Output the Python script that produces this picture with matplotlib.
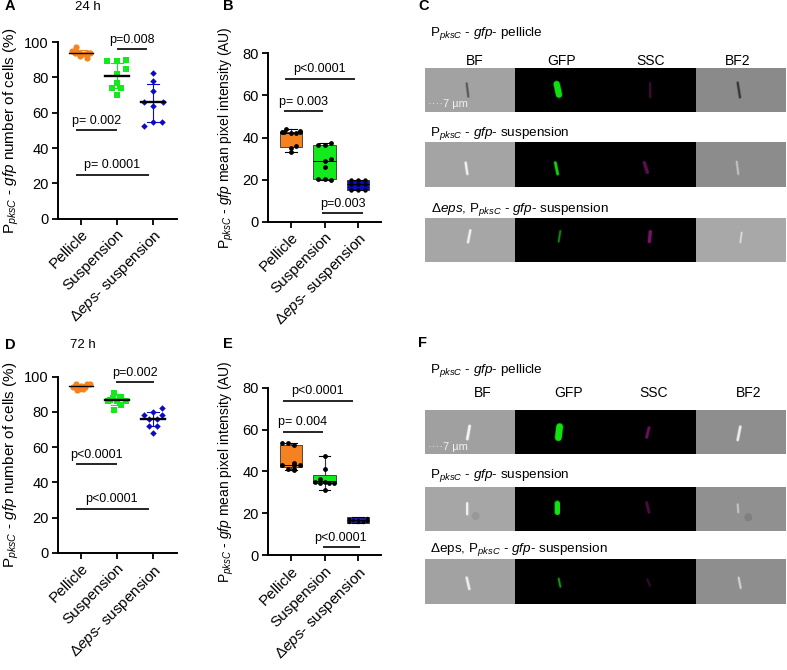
import matplotlib
matplotlib.use("Agg")
import matplotlib.pyplot as plt
from matplotlib.patches import Rectangle, Circle

plt.rcParams['font.family'] = ['Liberation Sans', 'DejaVu Sans']
plt.rcParams['mathtext.fontset'] = 'custom'
plt.rcParams['mathtext.rm'] = 'Liberation Sans'
plt.rcParams['mathtext.it'] = 'Liberation Sans:italic'
plt.rcParams['mathtext.bf'] = 'Liberation Sans:bold'
plt.rcParams['mathtext.default'] = 'regular'

W, H = 787, 670
ORANGE, GREEN, BLUE = '#f58220', '#12ea1e', '#0a0ac8'
NAVY = '#1f1f9c'

categories = ['Pellicle', 'Suspension', r'Δ$\mathit{eps}$- suspension']

# Panel A (24 h, % of cells)
a_pel = [97, 95, 94, 93, 93, 94, 93.5, 92, 91, 93.5]
a_pel_x = [-.15, -.25, -.08, 0, .1, .2, .26, -.02, .17, -.18]
a_sus = [89, 89, 90, 85, 82, 77, 74, 74, 70]
a_sus_x = [-.27, 0, .26, .26, 0, 0, -.13, .12, 0]
a_dep = [82.5, 78, 72.5, 66, 66, 64, 55, 55, 52.5]
a_dep_x = [0, 0, 0, -.26, .28, 0, 0, .26, -.26]
a_mean = [94, 81, 65.8]
a_sd = [[92.5, 95.5], [74, 88], [55, 76]]

# Panel D (72 h, % of cells)
d_pel = [96, 96, 95, 94, 94, 93, 93, 92.5, 96]
d_pel_x = [-.14, .24, 0, -.22, .12, .05, -.05, -.1, .18]
d_sus = [91, 88, 87, 86, 86, 86, 84, 81, 88]
d_sus_x = [-.08, .1, -.2, .26, -.26, .0, .12, -.08, -.1]
d_dep = [82, 80, 78.5, 78.5, 76, 76, 72, 72, 68]
d_dep_x = [.26, 0, -.26, .26, -.12, .1, -.12, .1, 0]
d_mean = [94.5, 87, 76]
d_sd = [[93, 96], [84, 90], [72, 80]]

# Panel B (24 h, AU): points and box statistics
b_pel = [44, 42.5, 42.5, 42, 42, 42.5, 36, 35, 33, 43]
b_pel_x = [-.14, -.28, -.2, 0, .14, .28, .14, 0, 0, .28]
b_sus = [36.5, 36.5, 37.5, 30, 29, 26, 20.5, 20.5, 20]
b_sus_x = [-.2, 0, .2, .2, 0, 0, -.2, 0, .2]
b_dep = [20, 20, 20, 18, 18, 18, 15, 15, 15]
b_dep_x = [-.2, 0, .2, -.2, 0, .2, -.2, 0, .2]
b_q1 = [35.5, 20.5, 15]
b_med = [42, 29, 18]
b_q3 = [42.5, 36.5, 20]
b_low = [33, 20, 15]
b_high = [44, 37.5, 20]

# Panel E (72 h, AU): points and box statistics
e_pel = [53.4, 53.7, 52.6, 44, 43, 43, 43, 41, 41, 40.5]
e_pel_x = [-.28, -.08, .1, .1, -.28, .1, .28, -.08, .1, .1]
e_sus = [47.4, 41, 36.4, 35, 35, 34.4, 34.4, 34.4, 31]
e_sus_x = [0, 0, -.14, -.28, 0, -.14, .14, .28, 0]
e_dep = [18, 17.5, 17, 17, 16.5, 16.5, 16, 16, 16]
e_dep_x = [.28, -.28, -.14, 0, .14, .28, -.28, 0, .14]
e_q1 = [42, 34.4, 15.5]
e_med = [43, 35.5, 17]
e_q3 = [52.6, 38.5, 18.2]
e_low = [40.5, 31, 15.5]
e_high = [53.7, 47.4, 18.2]

# p-value bars: x0, x1, y, label, text x, text baseline y
a_bars = [(1.0, 1.82, 96, 'p=0.008', 1.41, 99.5),
          (-.14, 1.0, 50.4, 'p= 0.002', .43, 53.5),
          (-.14, 1.89, 25, 'p= 0.0001', .86, 28.5)]
b_bars = [(-.17, 1.91, 68, 'p<0.0001', .84, 71),
          (-.2, .96, 52.5, 'p= 0.003', .38, 55.5),
          (.93, 2.16, 4, 'p=0.003', 1.54, 7)]
d_bars = [(.96, 2.04, 97, 'p=0.002', 1.49, 100.5),
          (-.14, 1.0, 50.5, 'p<0.0001', .42, 54),
          (-.14, 1.89, 25, 'p<0.0001', .86, 29)]
e_bars = [(-.23, 1.86, 73.8, 'p<0.0001', .8, 76.8),
          (-.23, .95, 58.7, 'p= 0.004', .36, 62),
          (.97, 2.06, 4, 'p<0.0001', 1.49, 6.8)]

PKSC = r'P$_{\mathit{pksC}}$'
GFP = r'$\mathit{gfp}$'
ylabel_pct = PKSC + ' - ' + GFP + ' number of cells (%)'
ylabel_au = PKSC + ' - ' + GFP + ' mean pixel intensity (AU)'

fig = plt.figure(figsize=(W / 100, H / 100), dpi=100, facecolor='white')


def px_axes(x0, x1, ytop, ybot, zorder=2):
    return fig.add_axes([x0 / W, 1 - ybot / H, (x1 - x0) / W, (ybot - ytop) / H], zorder=zorder)


def style(ax, xc, unit, ymax, yticks, ylabel, lx, lsize):
    x0, x1 = ax.get_position().x0 * W, ax.get_position().x1 * W
    ax.set_xlim((x0 - xc) / unit, (x1 - xc) / unit)
    ax.set_ylim(0, ymax)
    ax.set_xticks([0, 1, 2])
    ax.set_xticklabels(categories, rotation=45, ha='right', rotation_mode='anchor', fontsize=11)
    ax.set_yticks(yticks)
    ax.tick_params(axis='y', labelsize=10.5, width=1.3, length=4.5, pad=2)
    ax.tick_params(axis='x', width=1.3, length=4, pad=2)
    for s in ('top', 'right'):
        ax.spines[s].set_visible(False)
    for s in ('left', 'bottom'):
        ax.spines[s].set_linewidth(1.4)
    ax.set_ylabel(ylabel, fontsize=lsize)
    ax.yaxis.set_label_coords(lx, 0.5)
    ax.patch.set_alpha(0)


def bars(ax, items):
    for x0, x1, y, lab, xt, yt in items:
        ax.plot([x0, x1], [y, y], color='black', lw=1.2, clip_on=False, solid_capstyle='butt')
        ax.text(xt, yt, lab, ha='center', va='baseline', fontsize=9)


def scatter_panel(ax, groups, means, sds, cols, markers, sizes):
    for i, (vals, off) in enumerate(groups):
        lo, hi = sds[i]
        ax.plot([i, i], [lo, hi], color=cols[i], lw=.8, zorder=2)
        for v in (lo, hi):
            ax.plot([i - .16, i + .16], [v, v], color=cols[i], lw=.8, zorder=2)
        ax.scatter([i + o for o in off], vals, s=sizes[i], marker=markers[i], color=cols[i],
                   zorder=3, clip_on=False, linewidths=0)
        ax.plot([i - .32, i + .32], [means[i]] * 2, color='black', lw=1.7 if i else 1.0, zorder=4)


def box_panel(ax, groups, q1, med, q3, low, high, cols, dots):
    stats = [dict(q1=q1[i], med=med[i], q3=q3[i], whislo=low[i], whishi=high[i], fliers=[]) for i in range(3)]
    bp = ax.bxp(stats, positions=[0, 1, 2], widths=.68, patch_artist=True, showfliers=False,
                manage_ticks=False,
                medianprops=dict(color='black', lw=.7),
                whiskerprops=dict(color='#333355', lw=.8),
                capprops=dict(color='black', lw=.8),
                boxprops=dict(edgecolor='#333333', lw=.6))
    for b, c in zip(bp['boxes'], cols):
        b.set_facecolor(c)
    for i, (vals, off) in enumerate(groups):
        ax.scatter([i + o for o in off], vals, s=dots[i], color='black', zorder=4, linewidths=0, clip_on=False)


axA = px_axes(58, 177, 42, 218.7)
scatter_panel(axA, [(a_pel, a_pel_x), (a_sus, a_sus_x), (a_dep, a_dep_x)], a_mean, a_sd,
              [ORANGE, GREEN, BLUE], ['o', 's', 'D'], [20, 20, 11])
style(axA, 81, 36, 100, [0, 20, 40, 60, 80, 100], ylabel_pct, -.31, 11)
bars(axA, a_bars)

axD = px_axes(58, 177, 376.7, 553)
scatter_panel(axD, [(d_pel, d_pel_x), (d_sus, d_sus_x), (d_dep, d_dep_x)], d_mean, d_sd,
              [ORANGE, GREEN, BLUE], ['o', 's', 'D'], [20, 20, 11])
style(axD, 81, 36, 100, [0, 20, 40, 60, 80, 100], ylabel_pct, -.31, 11)
bars(axD, d_bars)

axB = px_axes(268, 381, 53.3, 221.7)
box_panel(axB, [(b_pel, b_pel_x), (b_sus, b_sus_x), (b_dep, b_dep_x)], b_q1, b_med, b_q3, b_low, b_high,
          [ORANGE, GREEN, BLUE], [12, 12, 10])
style(axB, 291, 33.5, 80, [0, 20, 40, 60, 80], ylabel_au, -.28, 10)
bars(axB, b_bars)

axE = px_axes(268, 381, 387.7, 555.3)
box_panel(axE, [(e_pel, e_pel_x), (e_sus, e_sus_x), (e_dep, e_dep_x)], e_q1, e_med, e_q3, e_low, e_high,
          [ORANGE, GREEN, NAVY], [12, 12, 6])
style(axE, 291, 33.5, 80, [0, 20, 40, 60, 80], ylabel_au, -.28, 10)
bars(axE, e_bars)

# Overlay in pixel coordinates for the microscopy strips and panel texts
ov = fig.add_axes([0, 0, 1, 1], zorder=1)
ov.set_xlim(0, W)
ov.set_ylim(H, 0)
ov.axis('off')

strip_x = [425, 515, 696, 786]
c_rows = [(68, 112), (142, 187), (218, 262)]
f_rows = [(410, 454), (487, 531), (559, 604)]
c_bf = ['#a2a2a2', '#a4a4a4', '#a6a6a6']
c_bf2 = ['#8a8a8a', '#8c8c8c', '#a8a8a8']
f_bf = ['#a0a0a0', '#a6a6a6', '#a2a2a2']
f_bf2 = ['#8e8e8e', '#909090', '#8e8e8e']

# Cell rods in zoomed-crop coordinates: x0, y0, x1, y1, width, colour
c_rods = [(155, 250, 160, 290, 1.6, '#555555'), (425, 252, 432, 284, 6, '#10e010'),
          (706, 250, 706, 290, 2, '#3a0a30'), (968, 248, 975, 292, 1.8, '#333333'),
          (152, 488, 157, 522, 2, '#f2f2f2'), (421, 488, 428, 522, 2.5, '#10d010'),
          (688, 488, 697, 517, 3, '#5a1050'), (965, 485, 970, 522, 1.6, '#c4c4c4'),
          (166, 691, 159, 727, 2, '#f2f2f2'), (436, 693, 431, 725, 1.5, '#109010'),
          (706, 695, 703, 725, 3, '#7a1268'), (980, 698, 976, 727, 1.4, '#dcdcdc')]
f_rods = [(164, 273, 157, 312, 2.4, '#f4f4f4'), (434, 275, 430, 308, 6.5, '#10e410'),
          (702, 278, 695, 307, 2.5, '#6a1060'), (976, 275, 968, 315, 2.2, '#eeeeee'),
          (155, 503, 155, 537, 2, '#f0f0f0'), (427, 503, 427, 532, 5, '#10e410'),
          (695, 503, 702, 532, 2.5, '#4a0c42'), (968, 508, 970, 532, 1.5, '#c8c8c8'),
          (155, 728, 163, 762, 2.2, '#eeeeee'), (431, 731, 436, 755, 1.6, '#10a010'),
          (697, 733, 705, 752, 2, '#32082c'), (971, 728, 977, 759, 1.6, '#d4d4d4')]
f_discs = [(182, 543, '#989898'), (1000, 547, '#7f7f7f')]


def strips(rows, bf, bf2):
    for (t, b), c1, c2 in zip(rows, bf, bf2):
        ov.add_patch(Rectangle((strip_x[0], t), strip_x[1] - strip_x[0], b - t, fc=c1, ec='none'))
        ov.add_patch(Rectangle((strip_x[1], t), strip_x[2] - strip_x[1], b - t, fc='black', ec='none'))
        ov.add_patch(Rectangle((strip_x[2], t), strip_x[3] - strip_x[2], b - t, fc=c2, ec='none'))


def rods(items, yoff):
    for x0, y0, x1, y1, w, c in items:
        xs = [415 + x0 / 3, 415 + x1 / 3]
        ys = [yoff + y0 / 3, yoff + y1 / 3]
        ov.plot(xs, ys, color=c, lw=(w + 1.4) * .72, alpha=.35, solid_capstyle='round')
        ov.plot(xs, ys, color=c, lw=w * .72, solid_capstyle='round')


strips(c_rows, c_bf, c_bf2)
strips(f_rows, f_bf, f_bf2)
rods(c_rods, 0)
rods(f_rods, 335)
for x, y, c in f_discs:
    ov.add_patch(Circle((415 + x / 3, 335 + y / 3), 4, fc=c, ec='none'))

titles_c = [(430, 36, PKSC + ' - ' + GFP + '- pellicle'),
            (430, 136, PKSC + ' - ' + GFP + '- suspension'),
            (431, 212, r'Δ$\mathit{eps}$, ' + PKSC + ' - ' + GFP + '- suspension')]
titles_f = [(430, 373, PKSC + ' - ' + GFP + '- pellicle'),
            (430, 478, PKSC + ' - ' + GFP + '- suspension'),
            (430, 552, 'Δeps, ' + PKSC + ' - ' + GFP + '- suspension')]
for x, y, s in titles_c + titles_f:
    ov.text(x, y, s, fontsize=9.7, va='baseline', ha='left')

col_names = ['BF', 'GFP', 'SSC', 'BF2']
for name, x in zip(col_names, [475, 562, 651, 738]):
    ov.text(x, 65, name, fontsize=10, ha='center', va='baseline')
for name, x in zip(col_names, [483, 569, 654, 749]):
    ov.text(x, 397, name, fontsize=10, ha='center', va='baseline')

for y in (107, 450):
    ov.text(428, y, '····7 µm', fontsize=8, color='#f0f0f0', ha='left', va='baseline')

letters = [('A', 5, 10), ('B', 223, 10), ('C', 418, 10), ('D', 5, 349), ('E', 223, 348), ('F', 418, 347)]
for s, x, y in letters:
    ov.text(x, y, s, fontsize=10.5, fontweight='bold', ha='left', va='baseline')
ov.text(75, 10, '24 h', fontsize=9.5, va='baseline')
ov.text(70, 348, '72 h', fontsize=9.5, va='baseline')

fig.savefig('out.png', dpi=100)
